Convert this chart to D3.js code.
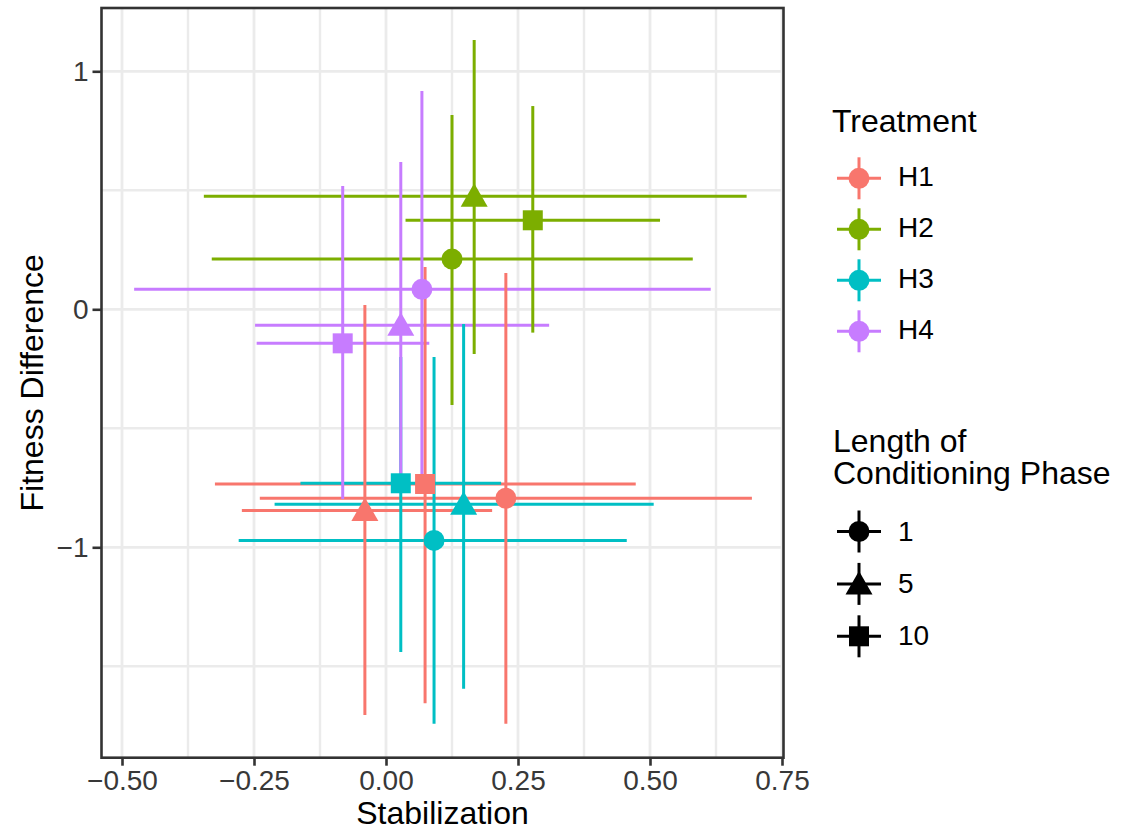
<!DOCTYPE html>
<html>
<head>
<meta charset="utf-8">
<script src="https://cdn.jsdelivr.net/npm/d3@7"></script>
<style>
  body { margin: 0; background: #fff; }
  text { font-family: "Liberation Sans", Arial, sans-serif; }
</style>
</head>
<body>
<script>
// data
var treatments = ["H1", "H2", "H3", "H4"];
var treatmentColors = ["#F8766D", "#7CAE00", "#00BFC4", "#C77CFF"];
var phases = ["1", "5", "10"];

// one entry per point: treatment / phase
var rowTreatment = ["H1", "H1", "H1", "H2", "H2", "H2", "H3", "H3", "H3", "H4", "H4", "H4"];
var rowPhase     = ["1", "5", "10", "1", "5", "10", "1", "5", "10", "1", "5", "10"];

// Stabilization (x) with interval
var stab   = [0.227, -0.040, 0.074, 0.125, 0.167, 0.278, 0.091, 0.147, 0.028, 0.068, 0.028, -0.082];
var stabLo = [-0.239, -0.273, -0.324, -0.330, -0.345, 0.037, -0.279, -0.211, -0.162, -0.477, -0.248, -0.245];
var stabHi = [0.693, 0.201, 0.473, 0.581, 0.683, 0.519, 0.456, 0.507, 0.218, 0.615, 0.309, 0.082];

// Fitness Difference (y) with interval
var fit   = [-0.794, -0.845, -0.734, 0.211, 0.475, 0.374, -0.971, -0.819, -0.731, 0.084, -0.067, -0.143];
var fitLo = [-1.741, -1.705, -1.655, -0.402, -0.188, -0.098, -1.741, -1.594, -1.440, -0.720, -0.720, -0.797];
var fitHi = [0.153, 0.018, 0.178, 0.816, 1.131, 0.854, -0.200, -0.062, -0.200, 0.917, 0.619, 0.518];

var xTicks = [-0.5, -0.25, 0, 0.25, 0.5, 0.75];
var xMinor = [-0.375, -0.125, 0.125, 0.375, 0.625];
var yTicks = [-1, 0, 1];
var yMinor = [-1.5, -0.5, 0.5];

// BEGIN setup
var w = 1121, h = 830;
var panel = {left: 101.5, top: 8, right: 783.5, bottom: 757.7};

var svg = d3.select("body").append("svg")
    .attr("width", w)
    .attr("height", h);

var x = d3.scaleLinear().domain([-0.5, 0.75]).range([122, 782]);
var y = d3.scaleLinear().domain([-1, 1]).range([547.3, 71.3]);

var color = d3.scaleOrdinal().domain(treatments).range(treatmentColors);

function shapePath(p) {
    if (p == "1") return d3.symbol().type(d3.symbolCircle).size(Math.PI * 10.5 * 10.5)();
    if (p == "5") return "M0,-13L13.5,10.5L-13.5,10.5Z";
    return "M-10,-10H10V10H-10Z";
}

var rows = stab.map(function(d, i) {
    return {t: rowTreatment[i], p: rowPhase[i], x: stab[i], xlo: stabLo[i], xhi: stabHi[i],
            y: fit[i], ylo: fitLo[i], yhi: fitHi[i]};
});

// grid
var grid = svg.append("g");
grid.selectAll(".vmin").data(xMinor).enter().append("line")
    .attr("x1", d => x(d)).attr("x2", d => x(d))
    .attr("y1", panel.top).attr("y2", panel.bottom)
    .attr("stroke", "#EBEBEB").attr("stroke-width", 2.4);
grid.selectAll(".hmin").data(yMinor).enter().append("line")
    .attr("y1", d => y(d)).attr("y2", d => y(d))
    .attr("x1", panel.left).attr("x2", panel.right)
    .attr("stroke", "#EBEBEB").attr("stroke-width", 2.4);
grid.selectAll(".vmaj").data(xTicks).enter().append("line")
    .attr("x1", d => x(d)).attr("x2", d => x(d))
    .attr("y1", panel.top).attr("y2", panel.bottom)
    .attr("stroke", "#EBEBEB").attr("stroke-width", 2.8);
grid.selectAll(".hmaj").data(yTicks).enter().append("line")
    .attr("y1", d => y(d)).attr("y2", d => y(d))
    .attr("x1", panel.left).attr("x2", panel.right)
    .attr("stroke", "#EBEBEB").attr("stroke-width", 2.8);

// horizontal error bars first, then vertical ranges, then points
svg.append("g").selectAll("line").data(rows).enter().append("line")
    .attr("x1", d => x(d.xlo)).attr("x2", d => x(d.xhi))
    .attr("y1", d => y(d.y)).attr("y2", d => y(d.y))
    .attr("stroke", d => color(d.t)).attr("stroke-width", 3);

svg.append("g").selectAll("line").data(rows).enter().append("line")
    .attr("x1", d => x(d.x)).attr("x2", d => x(d.x))
    .attr("y1", d => y(d.ylo)).attr("y2", d => y(d.yhi))
    .attr("stroke", d => color(d.t)).attr("stroke-width", 3);

svg.append("g").selectAll("path").data(rows).enter().append("path")
    .attr("d", d => shapePath(d.p))
    .attr("transform", d => "translate(" + x(d.x) + "," + y(d.y) + ")")
    .attr("fill", d => color(d.t));

// panel border
svg.append("rect")
    .attr("x", panel.left).attr("y", panel.top)
    .attr("width", panel.right - panel.left).attr("height", panel.bottom - panel.top)
    .attr("fill", "none").attr("stroke", "#333333").attr("stroke-width", 2.6);

// axes
var xAxis = svg.append("g")
    .attr("transform", "translate(0," + panel.bottom + ")")
    .call(d3.axisBottom(x).tickValues(xTicks).tickFormat(d3.format(".2f")).tickSize(8).tickPadding(4.5));
var yAxis = svg.append("g")
    .attr("transform", "translate(" + panel.left + ",0)")
    .call(d3.axisLeft(y).tickValues(yTicks).tickFormat(d3.format("d")).tickSize(9).tickPadding(4));

[xAxis, yAxis].forEach(function(a) {
    a.select(".domain").remove();
    a.selectAll(".tick line").attr("stroke", "#333333").attr("stroke-width", 2.6);
    a.selectAll(".tick text")
        .attr("fill", "#383838")
        .attr("font-size", 28)
        .attr("font-family", "'Liberation Sans', Arial, sans-serif");
});

svg.append("text")
    .attr("x", (panel.left + panel.right) / 2).attr("y", 824)
    .attr("text-anchor", "middle").attr("font-size", 32)
    .text("Stabilization");

svg.append("text")
    .attr("transform", "translate(43," + (panel.top + panel.bottom) / 2 + ") rotate(-90)")
    .attr("text-anchor", "middle").attr("font-size", 32)
    .text("Fitness Difference");

// legends
function keyGlyph(g, col, p) {
    g.append("line").attr("x1", -22).attr("x2", 22).attr("y1", 0).attr("y2", 0)
        .attr("stroke", col).attr("stroke-width", 3);
    g.append("line").attr("x1", 0).attr("x2", 0).attr("y1", -21).attr("y2", 21)
        .attr("stroke", col).attr("stroke-width", 3);
    g.append("path").attr("d", shapePath(p)).attr("fill", col);
}

var leg1 = svg.append("g");
leg1.append("text").attr("x", 832).attr("y", 132).attr("font-size", 32).text("Treatment");
treatments.forEach(function(t, i) {
    var cy = 178.3 + i * 51;
    var g = leg1.append("g").attr("transform", "translate(859," + cy + ")");
    keyGlyph(g, color(t), "1");
    leg1.append("text").attr("x", 898).attr("y", cy + 8).attr("font-size", 28).text(t);
});

var leg2 = svg.append("g");
leg2.append("text").attr("x", 833).attr("y", 451.5).attr("font-size", 32).text("Length of");
leg2.append("text").attr("x", 833).attr("y", 484).attr("font-size", 32).text("Conditioning Phase");
phases.forEach(function(p, i) {
    var cy = 531.5 + i * 52.4;
    var g = leg2.append("g").attr("transform", "translate(859," + cy + ")");
    keyGlyph(g, "#000000", p);
    leg2.append("text").attr("x", 898).attr("y", cy + 9).attr("font-size", 28).text(p);
});
</script>
</body>
</html>
